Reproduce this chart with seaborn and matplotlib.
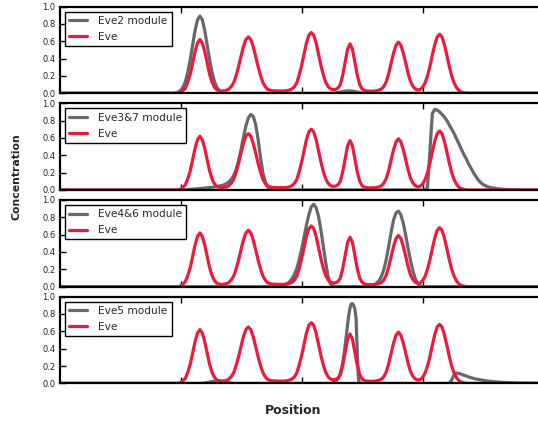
import numpy as np
import pandas as pd
import matplotlib
matplotlib.use("Agg")
import matplotlib.pyplot as plt
import seaborn as sns

# ---------------- data ----------------
X_MIN, X_MAX = 0.0, 100.0

# Eve expression (same in all panels): sampled every 0.5 from x=24
eve_start, eve_step = 24.0, 0.5
eve_values = [
    .00, .00, .01, .03, .06, .13, .22, .35, .48, .58,
    .62, .58, .48, .35, .22, .13, .07, .04, .03, .025,
    .03, .035, .05, .08, .125, .21, .31, .43, .54, .62,
    .65, .62, .54, .43, .31, .21, .125, .075, .045, .035,
    .03, .028, .027, .027, .027, .028, .03, .038, .05, .075,
    .12, .21, .32, .45, .58, .67, .70, .67, .58, .45,
    .32, .21, .125, .075, .05, .042, .045, .06, .10, .21,
    .36, .51, .57, .51, .36, .21, .10, .05, .032, .026,
    .025, .025, .026, .03, .037, .05, .08, .135, .23, .35,
    .465, .555, .59, .555, .465, .35, .23, .135, .08, .05,
    .038, .045, .07, .12, .20, .31, .44, .56, .65, .68,
    .65, .56, .44, .31, .20, .12, .065, .032, .015, .006,
    .002, .0,
]

# Module reporter curves: segments of (start, step, values); zero elsewhere
eve2_segments = [
    (23.5, 0.5, [0, .005, .013, .032, .07, .137, .242, .387, .557, .723,
                 .846, .89, .846, .723, .557, .387, .242, .137, .07, .032,
                 .013, .005, 0]),
    (56.0, 0.5, [0, .002, .005, .01, .015, .02, .025, .028, .028, .025,
                 .02, .014, .009, .005, .002, 0]),
]
eve37_segments = [
    (25.0, 0.5, [0, .002, .004, .006, .008, .01, .012, .014, .017, .019,
                 .022, .025, .028, .031, .035, .04, .045, .052, .06, .075,
                 .095, .125, .17, .24, .34, .47, .61, .74, .83, .87,
                 .85, .76, .59, .38, .20, .09, .035, .012, .003, 0]),
    (75.5, 0.5, [0, .03, .45, .88, .93, .92, .90, .87, .84, .80,
                 .75, .70, .65, .59, .53, .47, .41, .36, .30, .25,
                 .20, .155, .115, .085, .063, .048, .037, .029, .023, .018,
                 .014, .011, .009, .007, .005, .004, .003, .002, .001, 0]),
]
eve46_segments = [
    (45.5, 0.5, [0, .01, .02, .035, .055, .09, .14, .21, .31, .43,
                 .57, .71, .83, .92, .95, .91, .81, .65, .46, .27,
                 .11, .03, .005, 0]),
    (64.0, 0.5, [0, .01, .02, .04, .07, .12, .20, .32, .47, .63,
                 .77, .85, .87, .83, .73, .59, .44, .30, .18, .09,
                 .035, .01, 0]),
]
eve5_segments = [
    (29.5, 0.5, [0, .005, .01, .015, .02, .025, .028, .028, .025, .02,
                 .014, .008, .003, 0]),
    (56.0, 0.25, [0, .004, .008, .014, .022, .035, .055, .08, .12, .17,
                  .24, .33, .44, .56, .68, .79, .87, .915, .92, .90,
                  .86, .75, .35, .05, 0]),
    (80.5, 0.5, [0, .04, .10, .12, .115, .105, .095, .085, .075, .066,
                 .058, .051, .045, .04, .035, .031, .027, .024, .021, .018,
                 .016, .014, .012, .011, .009, .008, .007, .006, .005, .004,
                 .0035, .003, .0025, .002, .0015, .001, .0008, .0005, .0003, 0]),
]

module_names = ["Eve2 module", "Eve3&7 module", "Eve4&6 module", "Eve5 module"]
module_segments = [eve2_segments, eve37_segments, eve46_segments, eve5_segments]

x_ticks = [25, 50, 75]
y_ticks = [0.0, 0.2, 0.4, 0.6, 0.8, 1.0]
y_tick_labels = ["0.0", "0.2", "0.4", "0.6", "0.8", "1.0"]

# ---------------- build tables ----------------
def seg_to_xy(segments):
    xs, ys = [X_MIN], [0.0]
    for start, step, vals in segments:
        xs.extend(start + step * np.arange(len(vals)))
        ys.extend(vals)
    xs.append(X_MAX)
    ys.append(0.0)
    return np.array(xs, dtype=float), np.array(ys, dtype=float)

eve_x = np.concatenate([[X_MIN], eve_start + eve_step * np.arange(len(eve_values)), [X_MAX]])
eve_y = np.concatenate([[0.0], eve_values, [0.0]])
eve_df = pd.DataFrame({"Position": eve_x, "Concentration": eve_y})

# ---------------- style ----------------
sns.set_style("white")
plt.rcParams["font.family"] = ["DejaVu Sans"]

GRAY = "#686868"
RED = "#ec1a3d"

fig = plt.figure(figsize=(5.38, 4.21), dpi=100)

left = 59.5 / 538
right_px = 543.7
width = (right_px - 59.5) / 538
height = 86.8 / 421
bottoms_px = [93.3, 190.0, 286.7, 383.4]

for i, (name, segs) in enumerate(zip(module_names, module_segments)):
    ax = fig.add_axes([left, 1 - bottoms_px[i] / 421, width, height])
    mx, my = seg_to_xy(segs)
    mod_df = pd.DataFrame({"Position": mx, "Concentration": my})
    sns.lineplot(data=mod_df, x="Position", y="Concentration", ax=ax,
                 color=GRAY, lw=2.3, label=name, sort=False, estimator=None)
    sns.lineplot(data=eve_df, x="Position", y="Concentration", ax=ax,
                 color=RED, lw=2.3, label="Eve", sort=False, estimator=None)
    ax.set_xlim(X_MIN, X_MAX)
    ax.set_ylim(0, 1)
    ax.set_xticks(x_ticks)
    ax.set_xticklabels([])
    ax.set_yticks(y_ticks)
    ax.set_yticklabels(y_tick_labels)
    ax.set_xlabel("")
    ax.set_ylabel("")
    ax.tick_params(direction="in", top=True, right=True, bottom=True, left=True,
                   length=4, width=1, labelsize=6, colors="black", pad=3)
    ax.tick_params(axis="y", labelcolor="#222222")
    for sp in ax.spines.values():
        sp.set_visible(True)
        sp.set_linewidth(1.6)
        sp.set_color("black")
    leg = ax.legend(loc="upper left", fontsize=7.6, frameon=True, fancybox=False,
                    edgecolor="black", framealpha=1, handlelength=1.75,
                    handletextpad=1.0, labelspacing=0.55, borderpad=0.4,
                    borderaxespad=0.5)
    leg.get_frame().set_linewidth(1.0)

fig.text(17 / 538, 1 - 177 / 421, "Concentration", rotation=90, fontsize=7.8,
         fontweight="bold", ha="center", va="center")
fig.text(293 / 538, 1 - 411 / 421, "Position", fontsize=9,
         fontweight="bold", ha="center", va="center")

fig.savefig("out.png", dpi=100)
